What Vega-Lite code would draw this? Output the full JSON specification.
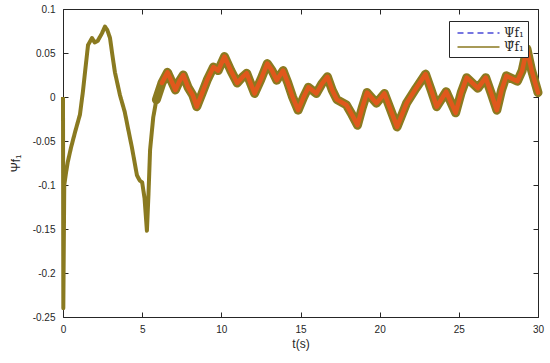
{
  "$schema": "https://vega.github.io/schema/vega-lite/v6.json",
  "width": 475,
  "height": 308,
  "autosize": {"type": "none"},
  "padding": {"left": 63, "top": 9, "right": 12, "bottom": 46},
  "background": "white",
  "config": {
    "view": {"stroke": null},
    "axis": {
      "labelFont": "Liberation Sans",
      "labelFontSize": 10,
      "labelColor": "#262626",
      "titleFont": "Liberation Sans",
      "titleFontWeight": "normal",
      "titleColor": "#262626",
      "domainColor": "#262626",
      "tickColor": "#262626",
      "domainWidth": 1,
      "tickWidth": 1,
      "grid": false,
      "tickSize": -5
    },
    "legend": {
      "labelFont": "DejaVu Serif",
      "labelFontSize": 12,
      "labelColor": "#262626"
    }
  },
  "data": {
    "values": [
      {"t": 0, "v": 0.0},
      {"t": 0.02, "v": -0.24},
      {"t": 0.08, "v": -0.1},
      {"t": 0.2, "v": -0.085},
      {"t": 0.3, "v": -0.074},
      {"t": 0.5, "v": -0.058},
      {"t": 0.76, "v": -0.04},
      {"t": 1.07, "v": -0.02},
      {"t": 1.25, "v": 0.005},
      {"t": 1.39, "v": 0.028},
      {"t": 1.58, "v": 0.059},
      {"t": 1.83, "v": 0.067},
      {"t": 2.0, "v": 0.062},
      {"t": 2.2, "v": 0.064},
      {"t": 2.45, "v": 0.072},
      {"t": 2.65, "v": 0.08},
      {"t": 2.8, "v": 0.076},
      {"t": 2.97, "v": 0.067},
      {"t": 3.1, "v": 0.05},
      {"t": 3.28, "v": 0.028},
      {"t": 3.6, "v": 0.002},
      {"t": 3.9, "v": -0.017},
      {"t": 4.1, "v": -0.035},
      {"t": 4.36, "v": -0.058},
      {"t": 4.67, "v": -0.089},
      {"t": 4.85, "v": -0.095},
      {"t": 5.0, "v": -0.097},
      {"t": 5.15, "v": -0.115},
      {"t": 5.3, "v": -0.152},
      {"t": 5.4, "v": -0.11},
      {"t": 5.5, "v": -0.06},
      {"t": 5.7, "v": -0.023},
      {"t": 5.9, "v": -0.003},
      {"t": 6.25, "v": 0.016},
      {"t": 6.6, "v": 0.028},
      {"t": 6.85, "v": 0.018},
      {"t": 7.1, "v": 0.008},
      {"t": 7.35, "v": 0.018},
      {"t": 7.6, "v": 0.025},
      {"t": 7.9, "v": 0.011},
      {"t": 8.2, "v": 0.002},
      {"t": 8.45, "v": -0.011},
      {"t": 8.8, "v": 0.005},
      {"t": 9.1, "v": 0.019},
      {"t": 9.5, "v": 0.034},
      {"t": 9.8, "v": 0.03},
      {"t": 10.2, "v": 0.046},
      {"t": 10.6, "v": 0.03},
      {"t": 11.0, "v": 0.016},
      {"t": 11.3, "v": 0.022},
      {"t": 11.6, "v": 0.027},
      {"t": 12.1, "v": 0.004},
      {"t": 12.5, "v": 0.02},
      {"t": 12.9, "v": 0.038},
      {"t": 13.2, "v": 0.03},
      {"t": 13.5, "v": 0.019},
      {"t": 13.9, "v": 0.03},
      {"t": 14.2, "v": 0.016},
      {"t": 14.5, "v": 0.0},
      {"t": 14.85, "v": -0.015},
      {"t": 15.2, "v": 0.0},
      {"t": 15.5, "v": 0.011},
      {"t": 16.0, "v": 0.004},
      {"t": 16.35, "v": 0.015},
      {"t": 16.7, "v": 0.023},
      {"t": 17.0, "v": 0.008},
      {"t": 17.3, "v": -0.003},
      {"t": 17.9, "v": -0.009},
      {"t": 18.25, "v": -0.02},
      {"t": 18.6, "v": -0.032},
      {"t": 18.9, "v": -0.012},
      {"t": 19.2, "v": 0.005},
      {"t": 19.8, "v": -0.007},
      {"t": 20.3, "v": 0.004},
      {"t": 20.7, "v": -0.015},
      {"t": 21.1, "v": -0.034},
      {"t": 21.7, "v": -0.007},
      {"t": 22.3, "v": 0.01},
      {"t": 22.9, "v": 0.026},
      {"t": 23.25, "v": 0.008},
      {"t": 23.6, "v": -0.011},
      {"t": 24.2, "v": 0.006},
      {"t": 24.8, "v": -0.018},
      {"t": 25.15, "v": 0.005},
      {"t": 25.5, "v": 0.022},
      {"t": 26.2, "v": 0.01},
      {"t": 26.7, "v": 0.022},
      {"t": 27.05, "v": 0.004},
      {"t": 27.4, "v": -0.015},
      {"t": 27.7, "v": 0.008},
      {"t": 28.0, "v": 0.024},
      {"t": 28.7, "v": 0.018},
      {"t": 29.0, "v": 0.03},
      {"t": 29.3, "v": 0.055},
      {"t": 29.6, "v": 0.03},
      {"t": 30.0, "v": 0.005}
    ]
  },
  "resolve": {"axis": {"x": "independent", "y": "independent"}},
  "layer": [
    {
      "mark": {"type": "line", "strokeWidth": 1.5},
      "encoding": {
        "x": {"field": "t", "type": "quantitative",
              "scale": {"domain": [0, 30], "nice": false, "zero": false},
              "axis": {"orient": "bottom", "values": [0, 5, 10, 15, 20, 25, 30], "labelExpr": "'' + datum.value", "title": "t(s)", "titleFontSize": 12, "labelPadding": 12, "titlePadding": 4, "labelFlush": false}},
        "y": {"field": "v", "type": "quantitative",
              "scale": {"domain": [-0.25, 0.1], "nice": false, "zero": false},
              "axis": {"orient": "left", "values": [-0.25, -0.2, -0.15, -0.1, -0.05, 0, 0.05, 0.1], "labelExpr": "'' + datum.value", "title": "Ψf₁", "titleFontSize": 12, "labelPadding": 13, "titlePadding": 10, "labelFlush": false}},
        "color": {"datum": "Ψf₁", "type": "nominal",
                  "scale": {"domain": ["Ψf₁", "Ψ̂f₁"], "range": ["#4a4ad8", "#8a7a20"]},
                  "legend": {"title": null, "orient": "none", "legendX": 386, "legendY": 12,
                             "padding": 4, "strokeColor": "#262626", "fillColor": "white",
                             "symbolType": "M-0.5,0H5.5", "symbolSize": 196, "symbolStrokeWidth": 1.5,
                             "labelOffset": 35, "rowPadding": 0}},
        "strokeDash": {"datum": "Ψf₁", "type": "nominal",
                       "scale": {"domain": ["Ψf₁", "Ψ̂f₁"], "range": [[6, 4], [1, 0]]}}
      }
    },
    {
      "mark": {"type": "line", "strokeWidth": 4, "strokeJoin": "round"},
      "encoding": {
        "x": {"field": "t", "type": "quantitative",
              "axis": {"orient": "top", "values": [0, 5, 10, 15, 20, 25, 30], "labels": false, "title": null}},
        "y": {"field": "v", "type": "quantitative",
              "axis": {"orient": "right", "values": [-0.25, -0.2, -0.15, -0.1, -0.05, 0, 0.05, 0.1], "labels": false, "title": null}},
        "color": {"datum": "Ψ̂f₁", "type": "nominal"},
        "strokeDash": {"datum": "Ψ̂f₁", "type": "nominal"}
      }
    },
    {
      "transform": [{"filter": "datum.t >= 5.9"}],
      "mark": {"type": "line", "strokeWidth": 9, "color": "#8a7a20", "strokeJoin": "round", "strokeCap": "round"},
      "encoding": {
        "x": {"field": "t", "type": "quantitative", "axis": null},
        "y": {"field": "v", "type": "quantitative", "axis": null}
      }
    },
    {
      "transform": [{"filter": "datum.t >= 6.25"}],
      "mark": {"type": "line", "strokeWidth": 4.5, "color": "#e0581c", "strokeJoin": "round", "strokeCap": "round"},
      "encoding": {
        "x": {"field": "t", "type": "quantitative", "axis": null},
        "y": {"field": "v", "type": "quantitative", "axis": null}
      }
    }
  ]
}
